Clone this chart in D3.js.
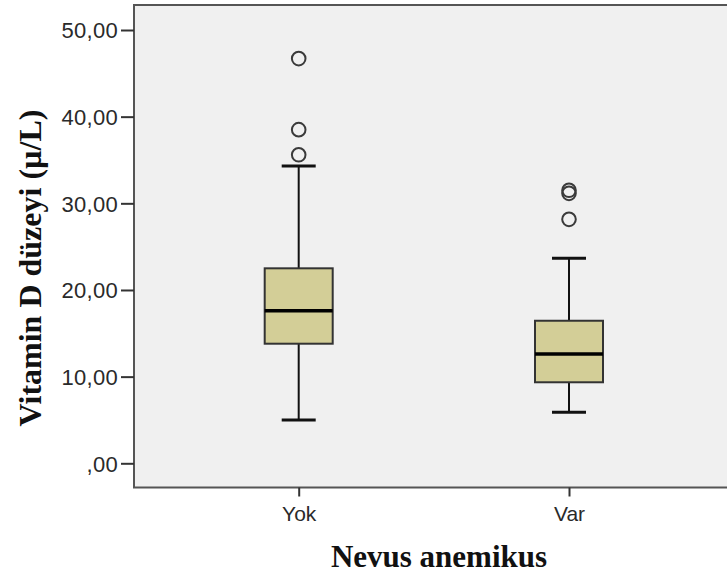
<!DOCTYPE html>
<html>
<head>
<meta charset="utf-8">
<script src="https://cdn.jsdelivr.net/npm/d3@7"></script>
<style>
  body { margin: 0; background: #fff; }
  svg { display: block; }
</style>
</head>
<body>
<div id="chart"></div>
<script>
// groups on the x axis
const groups = ["Yok", "Var"];
// box stats: lower whisker, Q1, median, Q3, upper whisker
const lowWhisker = [5.0, 5.9];
const q1 = [13.8, 9.35];
const medians = [17.6, 12.6];
const q3 = [22.5, 16.45];
const highWhisker = [34.3, 23.65];
// outliers for each group
const outliers = [
  [35.6, 38.5, 46.7],
  [28.15, 31.15, 31.5]
];
const yTicks = [0, 10, 20, 30, 40, 50];

const width = 727, height = 576;
const plot = { left: 134, top: 5, bottom: 487.5, right: 740 };

const svg = d3.select("#chart").append("svg")
  .attr("width", width)
  .attr("height", height);

const y = d3.scaleLinear().domain([0, 50]).range([463.3, 30]);
const x = d3.scalePoint().domain(groups).range([298.7, 569]);

// plot background
svg.append("rect")
  .attr("x", plot.left)
  .attr("y", plot.top)
  .attr("width", plot.right - plot.left)
  .attr("height", plot.bottom - plot.top)
  .attr("fill", "#f0f0f0")
  .attr("stroke", "#555")
  .attr("stroke-width", 2);

const fmt = v => v === 0 ? ",00" : d3.format(".2f")(v).replace(".", ",");

// y axis
const yAxis = svg.append("g")
  .attr("transform", `translate(${plot.left},0)`)
  .call(d3.axisLeft(y).tickValues(yTicks).tickFormat(fmt).tickSize(13).tickPadding(3));
yAxis.select(".domain").remove();
yAxis.selectAll(".tick line").attr("stroke", "#333").attr("stroke-width", 2);
yAxis.selectAll(".tick text")
  .attr("fill", "#2a2a2a")
  .attr("dy", "0.36em")
  .style("font-family", "Liberation Sans, Arial, sans-serif")
  .style("font-size", "22px")
  .style("letter-spacing", "0.3px");

// x axis
const xAxis = svg.append("g")
  .attr("transform", `translate(0,${plot.bottom})`)
  .call(d3.axisBottom(x).tickSize(9).tickPadding(10));
xAxis.select(".domain").remove();
xAxis.selectAll(".tick line").attr("stroke", "#333").attr("stroke-width", 2);
xAxis.selectAll(".tick text")
  .attr("fill", "#2a2a2a")
  .style("font-family", "Liberation Sans, Arial, sans-serif")
  .style("font-size", "21px");

// boxes
const boxW = 68, capW = 34;
const g = svg.append("g").selectAll("g")
  .data(groups)
  .join("g");

g.append("line")
  .attr("x1", d => x(d)).attr("x2", d => x(d))
  .attr("y1", (d, i) => y(lowWhisker[i]))
  .attr("y2", (d, i) => y(highWhisker[i]))
  .attr("stroke", "#111").attr("stroke-width", 2);

g.selectAll(".cap")
  .data((d, i) => [lowWhisker[i], highWhisker[i]].map(v => ({ g: d, v })))
  .join("line")
  .attr("class", "cap")
  .attr("x1", d => x(d.g) - capW / 2).attr("x2", d => x(d.g) + capW / 2)
  .attr("y1", d => y(d.v)).attr("y2", d => y(d.v))
  .attr("stroke", "#111").attr("stroke-width", 3);

g.append("rect")
  .attr("x", d => x(d) - boxW / 2)
  .attr("width", boxW)
  .attr("y", (d, i) => y(q3[i]))
  .attr("height", (d, i) => y(q1[i]) - y(q3[i]))
  .attr("fill", "#d3ce97")
  .attr("stroke", "#333")
  .attr("stroke-width", 2);

g.append("line")
  .attr("x1", d => x(d) - boxW / 2).attr("x2", d => x(d) + boxW / 2)
  .attr("y1", (d, i) => y(medians[i])).attr("y2", (d, i) => y(medians[i]))
  .attr("stroke", "#000").attr("stroke-width", 3.5);

g.selectAll(".out")
  .data((d, i) => outliers[i].map(v => ({ g: d, v })))
  .join("circle")
  .attr("class", "out")
  .attr("cx", d => x(d.g))
  .attr("cy", d => y(d.v))
  .attr("r", 6.8)
  .attr("fill", "none")
  .attr("stroke", "#3a3a3a")
  .attr("stroke-width", 2);

// axis titles
svg.append("text")
  .attr("transform", `translate(41,268) rotate(-90)`)
  .attr("text-anchor", "middle")
  .style("font-family", "Liberation Serif, Times New Roman, serif")
  .style("font-weight", "bold")
  .style("font-size", "32px")
  .attr("fill", "#111")
  .text("Vitamin D düzeyi (µ/L)");

svg.append("text")
  .attr("x", 439)
  .attr("y", 567)
  .attr("text-anchor", "middle")
  .style("font-family", "Liberation Serif, Times New Roman, serif")
  .style("font-weight", "bold")
  .style("font-size", "31px")
  .attr("fill", "#111")
  .text("Nevus anemikus");
</script>
</body>
</html>
